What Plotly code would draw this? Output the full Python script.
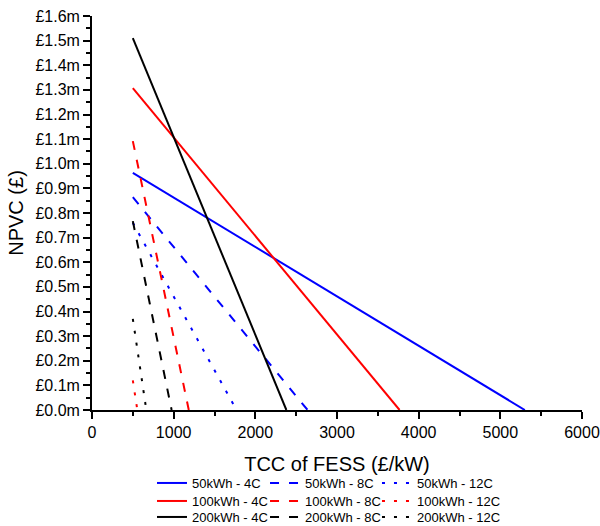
import plotly.graph_objects as go

# Net present value of cost (NPVC) against total capital cost (TCC) of the FESS.
# Each case is a straight line from TCC = 500 £/kW down to its break-even TCC.
capacities = ["50kWh", "100kWh", "200kWh"]
c_rates = ["4C", "8C", "12C"]

tcc_start = 500  # £/kW

# NPVC at TCC = 500 £/kW, in £m (rows: capacity, columns: C-rate)
npvc_start_50 = [0.963, 0.864, 0.760]
npvc_start_100 = [1.307, 1.092, 0.120]
npvc_start_200 = [1.510, 0.767, 0.370]

# TCC at which NPVC falls to zero, in £/kW
tcc_zero_50 = [5300, 2640, 1770]
tcc_zero_100 = [3766, 1185, 555]
tcc_zero_200 = [2380, 975, 665]

npvc_start = [npvc_start_50, npvc_start_100, npvc_start_200]
tcc_zero = [tcc_zero_50, tcc_zero_100, tcc_zero_200]

colors = {"50kWh": "#0000ff", "100kWh": "#ff0000", "200kWh": "#000000"}
dashes = {"4C": "solid", "8C": "9px,10px", "12C": "3px,9px"}

# legend grid below the axes: one row per capacity, one column per C-rate
legend_col_x = [0.1224, 0.3531, 0.5816]      # paper coords
legend_row_y = [-0.1853, -0.2310, -0.2716]   # paper coords

font_family = "Arial, Liberation Sans, sans-serif"

fig = go.Figure()
legends = {}
for i, cap in enumerate(capacities):
    for j, rate in enumerate(c_rates):
        k = 3 * i + j
        lid = "legend" if k == 0 else f"legend{k + 1}"
        legends[lid] = dict(
            x=legend_col_x[j],
            xanchor="left",
            y=legend_row_y[i],
            yanchor="middle",
            font=dict(size=13, family=font_family, color="black"),
            bgcolor="rgba(0,0,0,0)",
        )
        fig.add_trace(go.Scatter(
            x=[tcc_start, tcc_zero[i][j]],
            y=[npvc_start[i][j], 0.0],
            mode="lines",
            name=f"{cap} - {rate}",
            legend=lid,
            line=dict(color=colors[cap], width=2, dash=dashes[rate]),
        ))

fig.update_layout(
    width=600,
    height=526,
    margin=dict(l=92, r=18, t=16, b=116, autoexpand=False),
    paper_bgcolor="white",
    plot_bgcolor="white",
    font=dict(family=font_family, color="black", size=16),
    showlegend=True,
    **legends,
    xaxis=dict(
        range=[0, 6000],
        tickvals=[0, 1000, 2000, 3000, 4000, 5000, 6000],
        ticks="outside",
        ticklen=7,
        tickwidth=1.5,
        tickcolor="black",
        minor=dict(dtick=500, tick0=0, ticks="outside", ticklen=4,
                   tickwidth=1.5, tickcolor="black", showgrid=False),
        showline=True,
        linecolor="black",
        linewidth=1.8,
        showgrid=False,
        zeroline=False,
        tickfont=dict(size=16),
        title=dict(text="TCC of FESS (£/kW)", font=dict(size=20), standoff=17),
    ),
    yaxis=dict(
        range=[0, 1.6],
        dtick=0.1,
        tick0=0,
        tickformat=".1f",
        tickprefix="£",
        ticksuffix="m",
        ticks="outside",
        ticklen=7,
        tickwidth=1.5,
        tickcolor="black",
        minor=dict(dtick=0.05, tick0=0, ticks="outside", ticklen=4,
                   tickwidth=1.5, tickcolor="black", showgrid=False),
        showline=True,
        linecolor="black",
        linewidth=1.8,
        showgrid=False,
        zeroline=False,
        tickfont=dict(size=16),
        title=dict(text="NPVC (£)", font=dict(size=20), standoff=6),
    ),
)

fig.write_html("out.html")
